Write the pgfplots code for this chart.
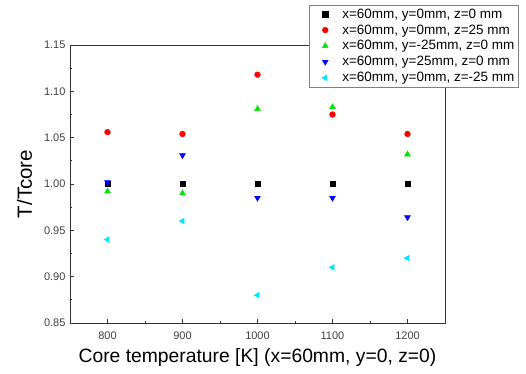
\documentclass[border=0pt]{standalone}
\usepackage{pgfplots}
\pgfplotsset{compat=1.18}
\usepackage{fontspec}
\setmainfont{Liberation Sans}
\definecolor{mycyan}{RGB}{0,230,255}
\definecolor{mygreen}{RGB}{0,230,0}
\begin{document}
\begin{tikzpicture}
\useasboundingbox (-70pt,-50pt) rectangle (456pt,323pt);
\begin{axis}[
  at={(0,0)}, anchor=south west,
  scale only axis, width=375pt, height=278pt,
  xmin=750, xmax=1250, ymin=0.85, ymax=1.15,
  xtick={800,900,1000,1100,1200},
  ytick={0.85,0.90,...,1.151},
  minor x tick num=1, minor y tick num=1,
  xtick pos=left, ytick pos=left,
  tick align=inside,
  major tick length=4pt, minor tick length=2.5pt,
  axis line style={black!80, line width=0.8pt},
  every tick/.style={black!80, line width=0.7pt},
  /pgf/number format/assume math mode=true,
  yticklabel style={/pgf/number format/fixed, /pgf/number format/fixed zerofill, /pgf/number format/precision=2, font=\fontsize{11}{12}\selectfont, text=black!75, xshift=-1pt},
  xticklabel style={/pgf/number format/1000 sep={}, font=\fontsize{11}{12}\selectfont, text=black!75, yshift=-5pt},
  xlabel={Core temperature [K] (x=60mm, y=0, z=0)},
  ylabel={T/Tcore},
  xlabel style={font=\fontsize{19.3}{22}\selectfont, yshift=-2pt},
  ylabel style={font=\fontsize{20.5}{24}\selectfont, yshift=5pt},
  legend style={at={(1.195,1.144)}, anchor=north east, draw=black!50, fill=white,
    font=\fontsize{13.5}{15}\selectfont, row sep=1pt, inner sep=1.5pt},
  legend image code/.code={%
    \path[draw=none, fill=none] (-4pt,0pt) -- (26pt,0pt);
    \path[only marks, #1] plot coordinates {(11pt,0pt)};},
  legend cell align=left,
  only marks,
]
\addplot[mark=square*, mark size=2.6pt, black, mark options={fill=black}] coordinates {(800,1.00) (900,1.00) (1000,1.00) (1100,1.00) (1200,1.00)};
\addlegendentry{x=60mm, y=0mm, z=0 mm}
\addplot[mark=*, mark size=2.9pt, red, mark options={fill=red}] coordinates {(800,1.056) (900,1.054) (1000,1.118) (1100,1.075) (1200,1.054)};
\addlegendentry{x=60mm, y=0mm, z=25 mm}
\addplot[mark=triangle*, mark size=3.4pt, mygreen, mark options={fill=mygreen}] coordinates {(800,0.992) (900,0.990) (1000,1.081) (1100,1.083) (1200,1.032)};
\addlegendentry{x=60mm, y=-25mm, z=0 mm}
\addplot[mark=triangle*, mark size=3.4pt, blue, mark options={fill=blue, rotate=180}] coordinates {(800,1.002) (900,1.031) (1000,0.985) (1100,0.985) (1200,0.964)};
\addlegendentry{x=60mm, y=25mm, z=0 mm}
\addplot[mark=triangle*, mark size=3.4pt, mycyan, mark options={fill=mycyan, rotate=90}] coordinates {(800,0.940) (900,0.960) (1000,0.880) (1100,0.910) (1200,0.920)};
\addlegendentry{x=60mm, y=0mm, z=-25 mm}
\end{axis}
\end{tikzpicture}
\end{document}
